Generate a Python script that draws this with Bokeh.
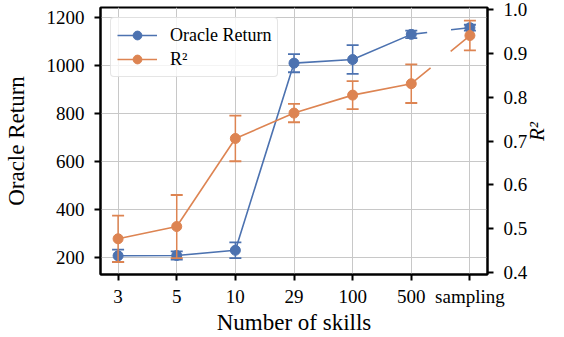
import math

from bokeh.plotting import figure
from bokeh.models import (Range1d, LinearAxis, FixedTicker, NumeralTickFormatter,
                          Legend, LegendItem, ColumnDataSource)
from bokeh.embed import file_html
from bokeh.resources import INLINE

# Number of skills (categorical x positions)
skills = ["3", "5", "10", "29", "100", "500", "sampling"]

# Oracle return (left axis) with error half-widths
oracle_return = [207, 208, 230, 1010, 1025, 1130, 1158]
oracle_err = [26, 17, 33, 38, 60, 16, 12]

# R^2 (right axis) with error half-widths
r2_score = [0.477, 0.505, 0.706, 0.764, 0.805, 0.831, 0.941]
r2_err = [0.053, 0.072, 0.052, 0.021, 0.032, 0.044, 0.034]

left_ticks = [200, 400, 600, 800, 1000, 1200]
right_ticks = [0.4, 0.5, 0.6, 0.7, 0.8, 0.9, 1.0]

FONT = "Liberation Serif"
BLUE = "#4c72b0"
ORANGE = "#dd8452"

xs = list(range(len(skills)))

p = figure(width=564, height=337, output_backend="svg", toolbar_location=None,
           x_range=Range1d(-0.3, 6.3), y_range=Range1d(129, 1242),
           min_border_left=100, min_border_right=74,
           min_border_top=7, min_border_bottom=63)
p.extra_y_ranges = {"r2": Range1d(0.3955, 1.005)}

p.outline_line_color = "black"
p.outline_line_width = 2
p.outline_line_alpha = 1.0
p.background_fill_color = "white"
p.border_fill_color = "white"

# grid
p.xgrid.grid_line_color = "#c8c8c8"
p.ygrid.grid_line_color = "#c8c8c8"
p.xgrid.grid_line_width = 1
p.ygrid.grid_line_width = 1

# axes
right_axis = LinearAxis(y_range_name="r2")
p.add_layout(right_axis, "right")

p.xaxis.ticker = FixedTicker(ticks=xs)
p.xaxis.major_label_overrides = {i: s for i, s in enumerate(skills)}
p.yaxis[0].ticker = FixedTicker(ticks=left_ticks)
right_axis.ticker = FixedTicker(ticks=right_ticks)
right_axis.formatter = NumeralTickFormatter(format="0.0")

p.xaxis.axis_label = "Number of skills"
p.yaxis[0].axis_label = "Oracle Return"
right_axis.axis_label = "R²"

for ax in [p.xaxis[0], p.yaxis[0], right_axis]:
    ax.axis_line_color = "black"
    ax.axis_line_width = 2
    ax.major_tick_line_color = "black"
    ax.major_tick_line_width = 2
    ax.major_tick_out = 6
    ax.major_tick_in = 0
    ax.minor_tick_line_color = None
    ax.major_label_text_font = FONT
    ax.major_label_text_font_size = "19px"
    ax.major_label_text_color = "black"
    ax.axis_label_text_font = FONT
    ax.axis_label_text_font_size = "23px"
    ax.axis_label_text_color = "black"
    ax.axis_label_text_font_style = "normal"

p.xaxis.major_label_standoff = 5
p.xaxis.axis_label_standoff = 0
p.yaxis[0].major_label_standoff = 10
p.yaxis[0].axis_label_standoff = 15
right_axis.major_label_standoff = 10
right_axis.axis_label_standoff = 7
right_axis.axis_label_text_font_style = "italic"
right_axis.axis_label_text_font_size = "21px"
right_axis.axis_label_orientation = math.pi / 2


def draw_series(y, err, color, dash, range_name="default"):
    src = ColumnDataSource(dict(
        x=xs, y=y,
        lo=[v - e for v, e in zip(y, err)],
        hi=[v + e for v, e in zip(y, err)],
    ))
    p.segment(x0="x", y0="lo", x1="x", y1="hi", source=src, line_color=color,
              line_width=1.5, y_range_name=range_name)
    p.scatter(x="x", y="lo", source=src, marker="dash", size=12, line_color=color,
              line_width=1.8, y_range_name=range_name)
    p.scatter(x="x", y="hi", source=src, marker="dash", size=12, line_color=color,
              line_width=1.8, y_range_name=range_name)
    solid = p.line(xs[:6], y[:6], line_color=color, line_width=1.6,
                   y_range_name=range_name)
    p.line(xs[5:], y[5:], line_color=color, line_width=1.6, line_dash=dash,
           y_range_name=range_name)
    pts = p.scatter(x="x", y="y", source=src, size=10, fill_color=color,
                    line_color=color, y_range_name=range_name)
    return solid, pts


blue_line, blue_pts = draw_series(oracle_return, oracle_err, BLUE, "16 24")
orange_line, orange_pts = draw_series(r2_score, r2_err, ORANGE, "25 26", "r2")

legend = Legend(items=[
    LegendItem(label="Oracle Return", renderers=[blue_line, blue_pts]),
    LegendItem(label="R²", renderers=[orange_line, orange_pts]),
], location="top_left")
legend.margin = 10
legend.padding = 6
legend.spacing = 2
legend.glyph_width = 40
legend.glyph_height = 22
legend.label_height = 22
legend.label_standoff = 13
legend.label_text_font = FONT
legend.label_text_font_size = "18px"
legend.label_text_color = "black"
legend.border_line_color = "#cccccc"
legend.border_line_width = 1.5
legend.border_radius = 4
legend.background_fill_color = "white"
legend.background_fill_alpha = 0.8
p.add_layout(legend)

open("out.html", "w").write(file_html(p, INLINE))
